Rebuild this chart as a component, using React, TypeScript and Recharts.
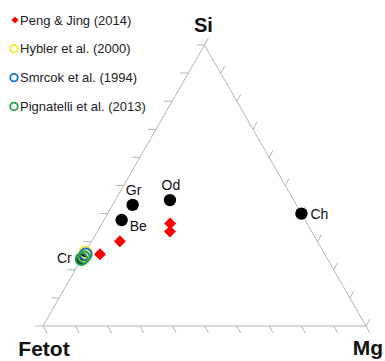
import React from "react";
import { Legend, ReferenceLine, Scatter, ScatterChart, XAxis, YAxis } from "recharts";

const W = 385;
const H = 361;
const FONT = "'Liberation Sans', Arial, Helvetica, sans-serif";

// ternary fractions: Si (top), Fetot (bottom left), Mg (bottom right)
const mineralNames = ["Gr", "Od", "Be", "Cr", "Ch"];
const mineralSi = [0.431, 0.448, 0.377, 0.24, 0.4];
const mineralFe = [0.507, 0.383, 0.568, 0.76, 0.0];
const mineralMg = [0.062, 0.169, 0.055, 0.0, 0.6];
const mineralLabelSide = ["top", "top", "belowRight", "left", "right"];

const pengSi = [0.255, 0.302, 0.365, 0.336];
const pengFe = [0.696, 0.611, 0.424, 0.439];
const pengMg = [0.049, 0.087, 0.211, 0.225];

const hyblerSi = [0.262, 0.248];
const hyblerFe = [0.738, 0.749];
const hyblerMg = [0.0, 0.003];

const smrcokSi = [0.255];
const smrcokFe = [0.74];
const smrcokMg = [0.005];

const pignatelliSi = [0.238, 0.245];
const pignatelliFe = [0.762, 0.751];
const pignatelliMg = [0.0, 0.004];

const vertexNames = ["Fetot", "Mg", "Si"];
const vertexSi = [0, 0, 1];
const vertexFe = [1, 0, 0];
const vertexMg = [0, 1, 0];

const tickFractions = [0, 0.1, 0.2, 0.3, 0.4, 0.5, 0.6, 0.7, 0.8, 0.9, 1];

const sourceNames = ["Peng & Jing (2014)", "Hybler et al. (2000)", "Smrcok et al. (1994)", "Pignatelli et al. (2013)"];
const sourceColors = ["#ff0000", "#eded2a", "#1f74c8", "#26a150"];

const X_DOMAIN: [number, number] = [-0.1331, 1.0588];
const Y_DOMAIN: [number, number] = [-0.1246, 1.1601];
const xPerPx = (X_DOMAIN[1] - X_DOMAIN[0]) / W;
const yPerPx = (Y_DOMAIN[1] - Y_DOMAIN[0]) / H;
const GRID = "#b4b4b4";

function toXY(si: number, fe: number, mg: number) {
  const s = si + fe + mg;
  return { x: (mg + si / 2) / s, y: si / s };
}

function build(si: number[], fe: number[], mg: number[], names?: string[], sides?: string[]) {
  return si.map((v, i) => ({ ...toXY(v, fe[i], mg[i]), name: names?.[i], side: sides?.[i] }));
}

const minerals = build(mineralSi, mineralFe, mineralMg, mineralNames, mineralLabelSide);
const peng = build(pengSi, pengFe, pengMg);
const hybler = build(hyblerSi, hyblerFe, hyblerMg);
const smrcok = build(smrcokSi, smrcokFe, smrcokMg);
const pignatelli = build(pignatelliSi, pignatelliFe, pignatelliMg);
const vertices = build(vertexSi, vertexFe, vertexMg, vertexNames);

const edges = [
  [vertices[0], vertices[1]],
  [vertices[1], vertices[2]],
  [vertices[2], vertices[0]],
];

const ticks: { x: number; y: number }[][] = [];
tickFractions.forEach((f) => {
  const b = toXY(0, 1 - f, f);
  ticks.push([b, { x: b.x + 4 * xPerPx, y: b.y - 7 * yPerPx }]);
  const l = toXY(f, 1 - f, 0);
  ticks.push([l, { x: l.x - 8 * xPerPx, y: l.y }]);
  const r = toXY(f, 0, 1 - f);
  ticks.push([r, { x: r.x + 4 * xPerPx, y: r.y + 7 * yPerPx }]);
});

const MineralDot = (props: any) => {
  const { cx, cy, payload } = props;
  let tx = cx;
  let ty = cy;
  let anchor = "middle";
  if (payload.side === "top") {
    tx = cx + 1;
    ty = cy - 10;
  } else if (payload.side === "right") {
    tx = cx + 9;
    ty = cy + 5;
    anchor = "start";
  } else if (payload.side === "left") {
    tx = cx - 10;
    ty = cy + 4;
    anchor = "end";
  } else if (payload.side === "belowRight") {
    tx = cx + 8;
    ty = cy + 11;
    anchor = "start";
  }
  return (
    <g>
      <circle cx={cx} cy={cy} r={6.2} fill="#000" />
      <text x={tx} y={ty} textAnchor={anchor} fontSize={14} fontFamily={FONT} fill="#111">
        {payload.name}
      </text>
    </g>
  );
};

const Diamond = (props: any) => {
  const { cx, cy } = props;
  const d = 6;
  return <polygon points={`${cx},${cy - d} ${cx + d},${cy} ${cx},${cy + d} ${cx - d},${cy}`} fill={sourceColors[0]} />;
};

const ring = (color: string) => (props: any) => (
  <circle cx={props.cx} cy={props.cy} r={5.8} fill="none" stroke={color} strokeWidth={2} />
);

const VertexLabel = (props: any) => {
  const { cx, cy, payload } = props;
  let tx = cx;
  let ty = cy;
  let size = 21;
  if (payload.name === "Si") {
    tx = cx - 1;
    ty = cy - 13;
    size = 20;
  } else if (payload.name === "Fetot") {
    tx = cx + 1;
    ty = cy + 30;
  } else {
    tx = cx + 2;
    ty = cy + 29;
  }
  return (
    <text x={tx} y={ty} textAnchor="middle" fontSize={size} fontWeight="bold" fontFamily={FONT} fill="#111">
      {payload.name}
    </text>
  );
};

const LegendBox = () => (
  <svg width={170} height={120}>
    {sourceNames.map((name, i) => {
      const y = 20 + i * 28.8;
      return (
        <g key={name}>
          {i === 0 ? (
            <polygon points={`15,${y - 3.5} 18.5,${y} 15,${y + 3.5} 11.5,${y}`} fill={sourceColors[0]} />
          ) : (
            <circle cx={14} cy={y} r={3.8} fill="none" stroke={sourceColors[i]} strokeWidth={1.8} />
          )}
          <text x={20} y={y + 4.5} fontSize={13} fontFamily={FONT} fill="#222">
            {name}
          </text>
        </g>
      );
    })}
  </svg>
);

export default function App() {
  return (
    <div style={{ position: "absolute", left: 0, top: 0, background: "#fff" }}>
      <ScatterChart width={W} height={H} margin={{ top: 0, right: 0, bottom: 0, left: 0 }}>
        <XAxis type="number" dataKey="x" domain={X_DOMAIN} allowDataOverflow hide />
        <YAxis type="number" dataKey="y" domain={Y_DOMAIN} allowDataOverflow hide />
        {edges.map((e, i) => (
          <ReferenceLine key={`e${i}`} segment={e.map((p) => ({ x: p.x, y: p.y }))} stroke={GRID} strokeWidth={1} ifOverflow="visible" />
        ))}
        {ticks.map((t, i) => (
          <ReferenceLine key={`t${i}`} segment={t} stroke={GRID} strokeWidth={1} ifOverflow="visible" />
        ))}
        <Scatter name="vertices" data={vertices} shape={VertexLabel} isAnimationActive={false} legendType="none" />
        <Scatter name="minerals" data={minerals} shape={MineralDot} isAnimationActive={false} legendType="none" />
        <Scatter name={sourceNames[0]} data={peng} shape={Diamond} isAnimationActive={false} />
        <Scatter name={sourceNames[1]} data={hybler} shape={ring(sourceColors[1])} isAnimationActive={false} />
        <Scatter name={sourceNames[2]} data={smrcok} shape={ring(sourceColors[2])} isAnimationActive={false} />
        <Scatter name={sourceNames[3]} data={pignatelli} shape={ring(sourceColors[3])} isAnimationActive={false} />
        <Legend
          layout="vertical"
          align="center"
          verticalAlign="middle"
          content={() => <LegendBox />}
          wrapperStyle={{ left: 0, top: 0, width: 170, height: 120 }}
        />
      </ScatterChart>
    </div>
  );
}
